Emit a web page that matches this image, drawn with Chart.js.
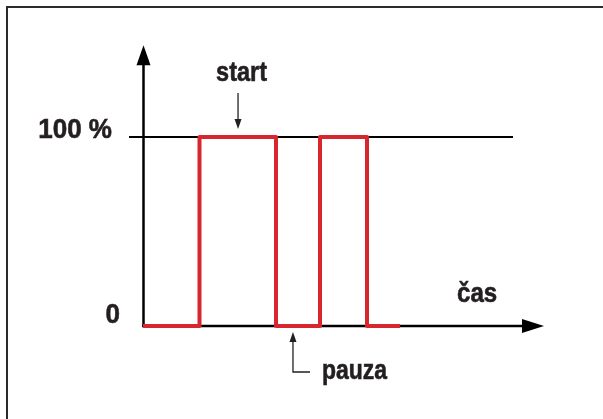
<!DOCTYPE html>
<html>
<head>
<meta charset="utf-8">
<script src="https://cdn.jsdelivr.net/npm/chart.js@4/dist/chart.umd.min.js"></script>
<style>
  html, body { margin: 0; padding: 0; background: #fff; }
  canvas { display: block; }
</style>
</head>
<body>
<canvas id="chart" width="603" height="419"></canvas>
<script>
// ===== DATA =====
// signal: time (arbitrary units, 0..100) vs output level in %
const times  = [0, 14.09, 14.09, 33.17, 33.17, 44.14, 44.14, 55.86, 55.86, 64.09];
const levels = [0, 0, 100, 100, 0, 0, 100, 100, 0, 0];

// reference line at 100 %
const refTimes  = [-3.49, 92.27];
const refLevels = [100, 100];

const tickValues = [0, 100];
const tickLabels = ["0", "100 %"];
const axisTitle = "čas";
const startLabel = "start";
const pauseLabel = "pauza";
const startAt = 23.7;   // where the "start" arrow points
const pauseAt = 37.4;   // where the "pauza" arrow points

const INK = "#231f20";
const RED = "#d8262f";
const FONT = "bold 28px 'Liberation Sans', Arial, sans-serif";

function condensedText(ctx, text, x, y, align, sx) {
    // narrow bold look of the original lettering
    sx = sx || 0.85;
    ctx.save();
    ctx.font = FONT;
    ctx.fillStyle = INK;
    ctx.strokeStyle = INK;
    ctx.lineWidth = 0.6;
    ctx.textBaseline = "alphabetic";
    const w = ctx.measureText(text).width * sx;
    let left = x;
    if (align === "right") left = x - w;
    if (align === "center") left = x - w / 2;
    ctx.translate(left, y);
    ctx.scale(sx, 1);
    ctx.textAlign = "left";
    ctx.fillText(text, 0, 0);
    ctx.strokeText(text, 0, 0);
    ctx.restore();
}

// axes with arrows, frame and labels
const sketchPlugin = {
    id: "sketch",
    beforeDatasetsDraw(chart) {
        const ctx = chart.ctx;
        const xs = chart.scales.x, ys = chart.scales.y;
        const x0 = xs.getPixelForValue(0), y0 = ys.getPixelForValue(0);
        const xEnd = chart.chartArea.right, yEnd = ys.getPixelForValue(148.5);

        ctx.save();
        // frame (top + left only)
        ctx.strokeStyle = "#2b2b2b";
        ctx.lineWidth = 2;
        ctx.beginPath();
        ctx.moveTo(7, 419); ctx.lineTo(7, 7); ctx.lineTo(603, 7);
        ctx.stroke();

        ctx.strokeStyle = "#000";
        ctx.fillStyle = "#000";
        ctx.lineWidth = 2.5;
        // y axis
        ctx.beginPath();
        ctx.moveTo(x0 + 0.5, y0); ctx.lineTo(x0 + 0.5, yEnd + 15);
        ctx.stroke();
        ctx.beginPath();
        ctx.moveTo(x0 + 0.5, yEnd); ctx.lineTo(x0 - 6.5, yEnd + 20); ctx.lineTo(x0 + 7.5, yEnd + 20);
        ctx.closePath(); ctx.fill();
        // x axis
        ctx.beginPath();
        ctx.moveTo(x0 - 1, y0); ctx.lineTo(xEnd - 15, y0);
        ctx.stroke();
        ctx.beginPath();
        ctx.moveTo(xEnd, y0); ctx.lineTo(xEnd - 22, y0 - 7); ctx.lineTo(xEnd - 22, y0 + 7);
        ctx.closePath(); ctx.fill();
        ctx.restore();
    },
    afterDatasetsDraw(chart) {
        const ctx = chart.ctx;
        const xs = chart.scales.x, ys = chart.scales.y;
        const y0 = ys.getPixelForValue(0);

        // tick labels
        tickValues.forEach((v, i) => {
            const right = v === 0 ? 120 : 112;
            condensedText(ctx, tickLabels[i], right, ys.getPixelForValue(v) + (v === 0 ? -3 : 1), "right", 0.93);
        });

        condensedText(ctx, axisTitle, 457, 302, "left", 0.86);

        ctx.save();
        ctx.strokeStyle = INK;
        ctx.fillStyle = INK;
        ctx.lineWidth = 1.3;

        // start arrow
        const sx = xs.getPixelForValue(startAt);
        const top100 = ys.getPixelForValue(100) - 8;
        condensedText(ctx, startLabel, sx + 3.5, 81, "center", 0.84);
        ctx.beginPath();
        ctx.moveTo(sx, 93); ctx.lineTo(sx, top100 - 6);
        ctx.stroke();
        ctx.beginPath();
        ctx.moveTo(sx, top100); ctx.lineTo(sx - 3.5, top100 - 10); ctx.lineTo(sx + 3.5, top100 - 10);
        ctx.closePath(); ctx.fill();

        // pauza arrow
        const px = xs.getPixelForValue(pauseAt);
        const tip = y0 + 6;
        ctx.beginPath();
        ctx.moveTo(px, tip + 6); ctx.lineTo(px, 372); ctx.lineTo(310, 372);
        ctx.stroke();
        ctx.beginPath();
        ctx.moveTo(px, tip); ctx.lineTo(px - 3.5, tip + 10); ctx.lineTo(px + 3.5, tip + 10);
        ctx.closePath(); ctx.fill();
        ctx.restore();

        condensedText(ctx, pauseLabel, 322, 379, "left", 0.82);
    }
};

new Chart(document.getElementById("chart"), {
    type: "line",
    data: {
        datasets: [
            {
                label: "signal",
                data: times.map((t, i) => ({ x: t, y: levels[i] })),
                borderColor: RED,
                borderWidth: 4,
                borderJoinStyle: "round",
                pointRadius: 0,
                tension: 0,
                fill: false,
                clip: false,
                order: 0
            },
            {
                label: "100 %",
                data: refTimes.map((t, i) => ({ x: t, y: refLevels[i] })),
                borderColor: "#000",
                borderWidth: 2,
                pointRadius: 0,
                fill: false,
                clip: false,
                order: 1
            }
        ]
    },
    options: {
        responsive: false,
        animation: false,
        devicePixelRatio: 1,
        layout: { padding: { left: 143, right: 59, top: 42.5, bottom: 93 } },
        plugins: { legend: { display: false }, tooltip: { enabled: false } },
        scales: {
            x: { type: "linear", min: 0, max: 100, display: false },
            y: { type: "linear", min: 0, max: 150, display: false }
        }
    },
    plugins: [sketchPlugin]
});
</script>
</body>
</html>
